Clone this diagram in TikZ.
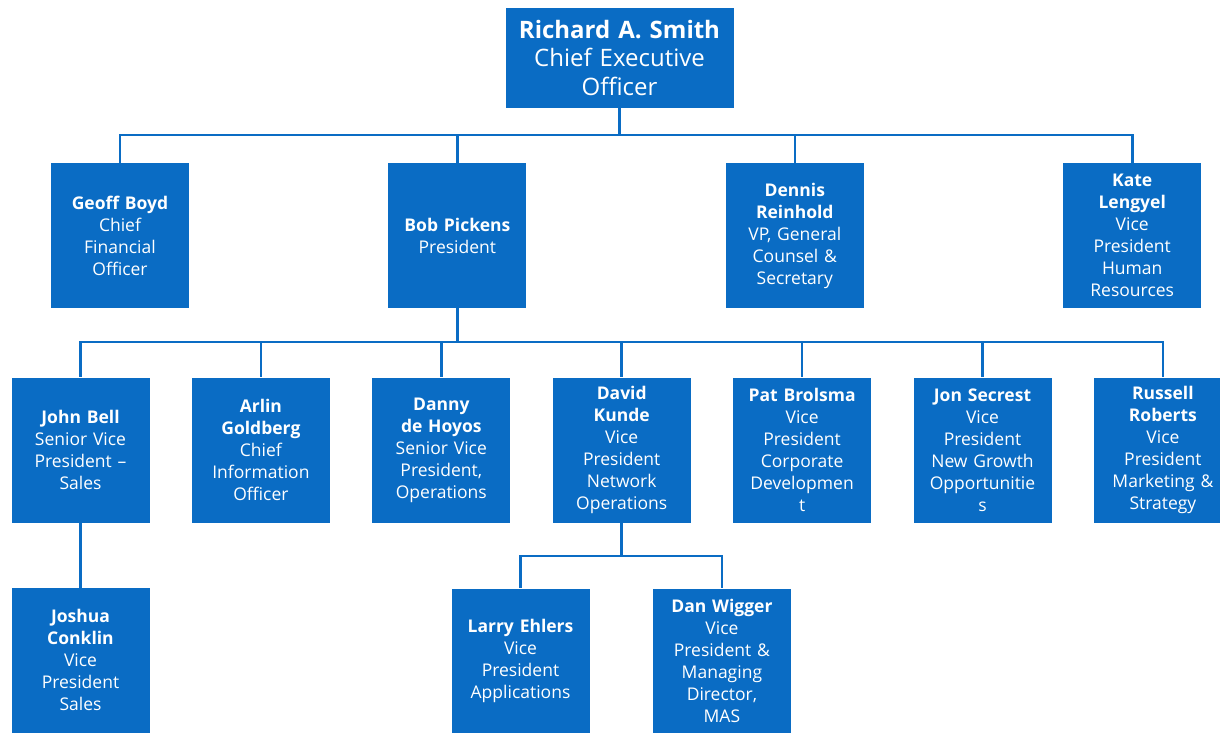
\documentclass[tikz,border=0pt]{standalone}
\usepackage{fontspec}
\setmainfont{Open Sans}
\usetikzlibrary{positioning}
\definecolor{orgblue}{HTML}{0A6CC4}

\begin{document}
\begin{tikzpicture}[x=1pt, y=-1pt,
    person/.style={rectangle, fill=orgblue, text=white, text width=134pt,
      minimum width=138pt, minimum height=145pt, align=center, inner sep=2pt,
      font=\fontsize{17.5}{22}\selectfont},
    chief/.style={person, text width=224pt, minimum width=228pt,
      minimum height=100pt, font=\fontsize{24}{28.5}\selectfont},
    link/.style={draw=orgblue, line width=2.6pt},
  ]
  \useasboundingbox (0,0) rectangle (1220,732);
  \clip (0,0) rectangle (1220,732);
  % top of the chart
  \node[chief] (ceo) at (619.5,57.5) {{\bfseries Richard A. Smith}\\Chief Executive\\Officer};
  % direct reports
  \node[person] (geoff) at (120,235.5) {{\bfseries Geoff Boyd}\\Chief\\Financial\\Officer};
  \node[person, right=199pt of geoff] (bob) {{\bfseries Bob Pickens}\\President};
  \node[person, right=199pt of bob] (dennis) {{\bfseries Dennis\\Reinhold}\\VP, General\\Counsel \&\\Secretary};
  \node[person, right=199pt of dennis] (kate) {{\bfseries Kate\\Lengyel}\\Vice\\President\\Human\\Resources};
  % under the president
  \node[person] (john) at (80.5,450) {{\bfseries John Bell}\\Senior Vice\\President --\\Sales};
  \node[person, right=42pt of john] (arlin) {{\bfseries Arlin\\Goldberg}\\Chief\\Information\\Officer};
  \node[person, right=42pt of arlin] (danny) {{\bfseries Danny\\de Hoyos}\\Senior Vice\\President,\\Operations};
  \node[person, right=42pt of danny] (david) {{\bfseries David\\Kunde}\\Vice\\President\\Network\\Operations};
  \node[person, right=42pt of david] (pat) {{\bfseries Pat Brolsma}\\Vice\\President\\Corporate\\Developmen\\t};
  \node[person, right=42pt of pat] (jon) {{\bfseries Jon Secrest}\\Vice\\President\\New Growth\\Opportunitie\\s};
  \node[person, right=42pt of jon] (russell) {{\bfseries Russell\\Roberts}\\Vice\\President\\Marketing \&\\Strategy};
  % third level
  \node[person, below=65pt of john] (joshua) {{\bfseries Joshua\\Conklin}\\Vice\\President\\Sales};
  \node[person] (larry) at (520.5,661) {{\bfseries Larry Ehlers}\\Vice\\President\\Applications};
  \node[person, right=63pt of larry] (dan) {{\bfseries Dan Wigger}\\Vice\\President \&\\Managing\\Director,\\MAS};
  % connectors
  \coordinate (bus1) at (0,135);
  \coordinate (bus2) at (0,342);
  \coordinate (bus3) at (0,556);
  \foreach \n in {geoff,bob,dennis,kate}
    \draw[link] (ceo.south) -- (ceo.south |- bus1) -| (\n.north);
  \foreach \n in {john,arlin,danny,david,pat,jon,russell}
    \draw[link] (bob.south) -- (bob.south |- bus2) -| (\n.north);
  \draw[link] (john.south) -- (joshua.north);
  \foreach \n in {larry,dan}
    \draw[link] (david.south) -- (david.south |- bus3) -| (\n.north);
\end{tikzpicture}
\end{document}
